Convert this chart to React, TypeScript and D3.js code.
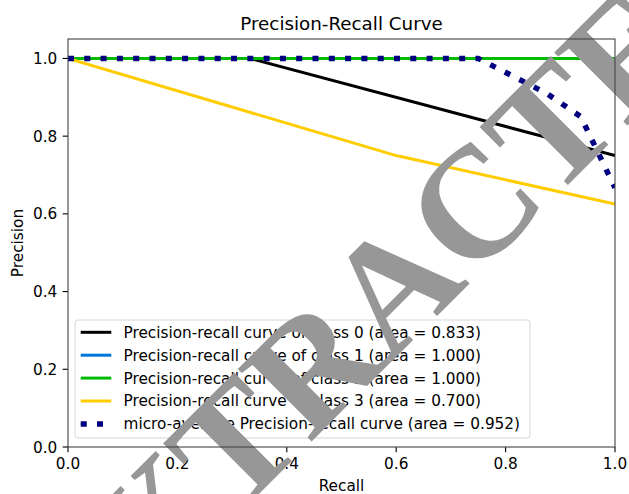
import React from 'react';
import * as d3 from 'd3';

const WIDTH = 629;
const HEIGHT = 494;

// Per-class precision-recall points (recall on x, precision on y)
const recallClass0 = [0, 0.333, 1];
const precisionClass0 = [1, 1, 0.75];
const recallClass1 = [0, 1];
const precisionClass1 = [1, 1];
const recallClass2 = [0, 1];
const precisionClass2 = [1, 1];
const recallClass3 = [0, 0.6, 1];
const precisionClass3 = [1, 0.75, 0.625];

// Micro-averaged curve
const recallMicro = [0, 0.75, 0.875, 0.9375, 1];
const precisionMicro = [1, 1, 0.91, 0.85, 0.667];

const classAreas = [0.833, 1.0, 1.0, 0.7];
const microArea = 0.952;
const classColors = ['#000000', '#0077dd', '#00bb00', '#ffcc00'];

const xTicks = [0, 0.2, 0.4, 0.6, 0.8, 1.0];
const yTicks = [0, 0.2, 0.4, 0.6, 0.8, 1.0];

const margin = { left: 68, right: 14, top: 39, bottom: 47 };
const FONT = "'DejaVu Sans', sans-serif";

export default function App() {
  const x = d3.scaleLinear().domain([0, 1]).range([margin.left, WIDTH - margin.right]);
  const y = d3.scaleLinear().domain([0, 1.05]).range([HEIGHT - margin.bottom, margin.top]);

  const line = d3
    .line<[number, number]>()
    .x((d) => x(d[0]))
    .y((d) => y(d[1]));

  const classSeries = [
    { r: recallClass0, p: precisionClass0 },
    { r: recallClass1, p: precisionClass1 },
    { r: recallClass2, p: precisionClass2 },
    { r: recallClass3, p: precisionClass3 },
  ].map((s, i) => ({
    path: line(s.r.map((v, k) => [v, s.p[k]] as [number, number])) || '',
    color: classColors[i],
    label: `Precision-recall curve of class ${i} (area = ${classAreas[i].toFixed(3)})`,
  }));

  const microPath = line(recallMicro.map((v, k) => [v, precisionMicro[k]] as [number, number])) || '';
  const microLabel = `micro-average Precision-recall curve (area = ${microArea.toFixed(3)})`;

  const x0 = x(0);
  const x1 = x(1);
  const yTop = y(1.05);
  const yBot = y(0);

  const legendRows = [
    ...classSeries.map((s) => ({ label: s.label, color: s.color, dotted: false })),
    { label: microLabel, color: 'navy', dotted: true },
  ];
  const legendLeft = 75;
  const legendTop = 320;
  const legendW = 455;
  const legendH = 118;
  const rowY0 = 332.3;
  const rowStep = 22.9;

  return (
    <svg
      width={WIDTH}
      height={HEIGHT}
      style={{ position: 'absolute', left: 0, top: 0, background: '#fff' }}
      fontFamily={FONT}
    >
      <defs>
        <clipPath id="plot-area">
          <rect x={x0} y={yTop} width={x1 - x0} height={yBot - yTop} />
        </clipPath>
      </defs>
      <rect x={0} y={0} width={WIDTH} height={HEIGHT} fill="#fff" />

      {/* curves */}
      <g clipPath="url(#plot-area)" fill="none">
        {classSeries.map((s, i) => (
          <path key={i} d={s.path} stroke={s.color} strokeWidth={3} strokeLinejoin="round" />
        ))}
        <path d={microPath} stroke="navy" strokeWidth={5.5} strokeDasharray="6 10.3" />
      </g>

      {/* ticks */}
      <g stroke="#000" strokeWidth={1.1}>
        {xTicks.map((t) => (
          <line key={t} x1={x(t)} x2={x(t)} y1={yBot} y2={yBot + 5.35} />
        ))}
        {yTicks.map((t) => (
          <line key={t} x1={x0 - 5.35} x2={x0} y1={y(t)} y2={y(t)} />
        ))}
      </g>
      <g fontSize={15.3} fill="#000">
        {xTicks.map((t) => (
          <text key={t} x={x(t)} y={yBot + 22} textAnchor="middle">
            {t.toFixed(1)}
          </text>
        ))}
        {yTicks.map((t) => (
          <text key={t} x={x0 - 10.7} y={y(t) + 5.5} textAnchor="end">
            {t.toFixed(1)}
          </text>
        ))}
      </g>

      {/* legend */}
      <rect
        x={legendLeft}
        y={legendTop}
        width={legendW}
        height={legendH}
        rx={3}
        fill="#fff"
        fillOpacity={0.8}
        stroke="#d6d6d6"
        strokeWidth={1}
      />
      {legendRows.map((row, i) => {
        const cy = rowY0 + i * rowStep;
        return (
          <g key={i}>
            <line
              x1={80.7}
              x2={111.3}
              y1={cy}
              y2={cy}
              stroke={row.color}
              strokeWidth={row.dotted ? 5.5 : 3}
              strokeDasharray={row.dotted ? '6 10.3' : undefined}
            />
            <text x={123.5} y={cy + 5.4} fontSize={15.3} fill="#000">
              {row.label}
            </text>
          </g>
        );
      })}

      {/* titles */}
      <text x={(x0 + x1) / 2} y={29.8} textAnchor="middle" fontSize={18.3} fill="#000">
        Precision-Recall Curve
      </text>
      <text x={(x0 + x1) / 2} y={490.7} textAnchor="middle" fontSize={15.3} fill="#000">
        Recall
      </text>
      <text
        transform={`translate(23,${(yTop + yBot) / 2}) rotate(-90)`}
        textAnchor="middle"
        fontSize={15.3}
        fill="#000"
      >
        Precision
      </text>

      {/* stamp */}
      <text
        transform="translate(430,323) rotate(-45)"
        textAnchor="middle"
        fontFamily="'Liberation Serif', 'Times New Roman', serif"
        fontWeight="bold"
        fontSize={158}
        fill="#979797"
      >
        EXTRACTED
      </text>

      {/* frame */}
      <rect x={x0} y={yTop} width={x1 - x0} height={yBot - yTop} fill="none" stroke="#444" strokeWidth={1.1} />
    </svg>
  );
}
